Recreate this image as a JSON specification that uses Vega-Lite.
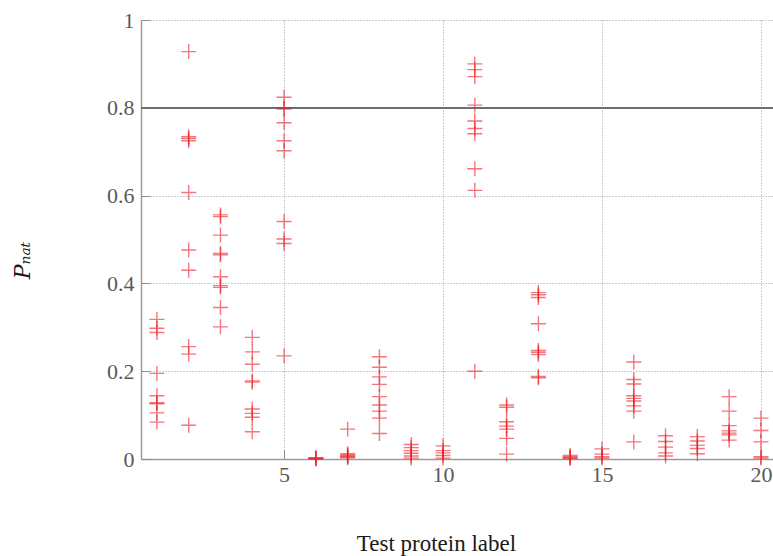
{
  "$schema": "https://vega.github.io/schema/vega-lite/v6.json",
  "width": 632,
  "height": 439,
  "autosize": {"type": "none"},
  "padding": {"left": 141, "top": 20, "right": 0, "bottom": 97},
  "background": "white",
  "config": {
    "view": {"stroke": null},
    "font": "Liberation Serif"
  },
  "data": {
    "values": [
      {"protein": 1, "p": 0.318}, {"protein": 1, "p": 0.298}, {"protein": 1, "p": 0.288}, {"protein": 1, "p": 0.195}, {"protein": 1, "p": 0.144}, {"protein": 1, "p": 0.128}, {"protein": 1, "p": 0.126}, {"protein": 1, "p": 0.105}, {"protein": 1, "p": 0.084},
      {"protein": 2, "p": 0.928}, {"protein": 2, "p": 0.734}, {"protein": 2, "p": 0.730}, {"protein": 2, "p": 0.725}, {"protein": 2, "p": 0.607}, {"protein": 2, "p": 0.476}, {"protein": 2, "p": 0.430}, {"protein": 2, "p": 0.256}, {"protein": 2, "p": 0.239}, {"protein": 2, "p": 0.077},
      {"protein": 3, "p": 0.556}, {"protein": 3, "p": 0.552}, {"protein": 3, "p": 0.510}, {"protein": 3, "p": 0.468}, {"protein": 3, "p": 0.465}, {"protein": 3, "p": 0.415}, {"protein": 3, "p": 0.395}, {"protein": 3, "p": 0.391}, {"protein": 3, "p": 0.345}, {"protein": 3, "p": 0.301},
      {"protein": 4, "p": 0.277}, {"protein": 4, "p": 0.244}, {"protein": 4, "p": 0.216}, {"protein": 4, "p": 0.178}, {"protein": 4, "p": 0.175}, {"protein": 4, "p": 0.114}, {"protein": 4, "p": 0.104}, {"protein": 4, "p": 0.095}, {"protein": 4, "p": 0.062},
      {"protein": 5, "p": 0.824}, {"protein": 5, "p": 0.800}, {"protein": 5, "p": 0.797}, {"protein": 5, "p": 0.766}, {"protein": 5, "p": 0.725}, {"protein": 5, "p": 0.702}, {"protein": 5, "p": 0.541}, {"protein": 5, "p": 0.501}, {"protein": 5, "p": 0.491}, {"protein": 5, "p": 0.235},
      {"protein": 6, "p": 0.003}, {"protein": 6, "p": 0.002}, {"protein": 6, "p": 0.001}, {"protein": 6, "p": 0.0},
      {"protein": 7, "p": 0.068}, {"protein": 7, "p": 0.012}, {"protein": 7, "p": 0.009}, {"protein": 7, "p": 0.007}, {"protein": 7, "p": 0.005}, {"protein": 7, "p": 0.003},
      {"protein": 8, "p": 0.233}, {"protein": 8, "p": 0.209}, {"protein": 8, "p": 0.187}, {"protein": 8, "p": 0.170}, {"protein": 8, "p": 0.142}, {"protein": 8, "p": 0.123}, {"protein": 8, "p": 0.109}, {"protein": 8, "p": 0.093}, {"protein": 8, "p": 0.058},
      {"protein": 9, "p": 0.033}, {"protein": 9, "p": 0.026}, {"protein": 9, "p": 0.019}, {"protein": 9, "p": 0.013}, {"protein": 9, "p": 0.007}, {"protein": 9, "p": 0.002},
      {"protein": 10, "p": 0.030}, {"protein": 10, "p": 0.019}, {"protein": 10, "p": 0.014}, {"protein": 10, "p": 0.008}, {"protein": 10, "p": 0.002},
      {"protein": 11, "p": 0.900}, {"protein": 11, "p": 0.887}, {"protein": 11, "p": 0.871}, {"protein": 11, "p": 0.806}, {"protein": 11, "p": 0.770}, {"protein": 11, "p": 0.753}, {"protein": 11, "p": 0.741}, {"protein": 11, "p": 0.661}, {"protein": 11, "p": 0.612}, {"protein": 11, "p": 0.200},
      {"protein": 12, "p": 0.123}, {"protein": 12, "p": 0.118}, {"protein": 12, "p": 0.085}, {"protein": 12, "p": 0.075}, {"protein": 12, "p": 0.068}, {"protein": 12, "p": 0.047}, {"protein": 12, "p": 0.011},
      {"protein": 13, "p": 0.379}, {"protein": 13, "p": 0.374}, {"protein": 13, "p": 0.368}, {"protein": 13, "p": 0.308}, {"protein": 13, "p": 0.247}, {"protein": 13, "p": 0.243}, {"protein": 13, "p": 0.238}, {"protein": 13, "p": 0.188}, {"protein": 13, "p": 0.185},
      {"protein": 14, "p": 0.008}, {"protein": 14, "p": 0.005}, {"protein": 14, "p": 0.003}, {"protein": 14, "p": 0.001},
      {"protein": 15, "p": 0.023}, {"protein": 15, "p": 0.011}, {"protein": 15, "p": 0.005}, {"protein": 15, "p": 0.002},
      {"protein": 16, "p": 0.221}, {"protein": 16, "p": 0.181}, {"protein": 16, "p": 0.171}, {"protein": 16, "p": 0.144}, {"protein": 16, "p": 0.138}, {"protein": 16, "p": 0.132}, {"protein": 16, "p": 0.121}, {"protein": 16, "p": 0.109}, {"protein": 16, "p": 0.039},
      {"protein": 17, "p": 0.053}, {"protein": 17, "p": 0.040}, {"protein": 17, "p": 0.027}, {"protein": 17, "p": 0.014}, {"protein": 17, "p": 0.007},
      {"protein": 18, "p": 0.051}, {"protein": 18, "p": 0.041}, {"protein": 18, "p": 0.031}, {"protein": 18, "p": 0.024}, {"protein": 18, "p": 0.012},
      {"protein": 19, "p": 0.142}, {"protein": 19, "p": 0.109}, {"protein": 19, "p": 0.076}, {"protein": 19, "p": 0.064}, {"protein": 19, "p": 0.059}, {"protein": 19, "p": 0.055}, {"protein": 19, "p": 0.043},
      {"protein": 20, "p": 0.093}, {"protein": 20, "p": 0.065}, {"protein": 20, "p": 0.039}, {"protein": 20, "p": 0.005}, {"protein": 20, "p": 0.002}
    ]
  },
  "layer": [
    {
      "mark": {"type": "rule", "color": "#6e6e6e", "strokeWidth": 1.6},
      "encoding": {"y": {"datum": 0.8, "type": "quantitative"}}
    },
    {
      "mark": {
        "type": "point",
        "shape": "M-1,0H1M0,-1V1",
        "filled": false,
        "size": 225,
        "stroke": "#ec1c24",
        "strokeWidth": 1.4,
        "strokeOpacity": 0.85
      },
      "encoding": {
        "x": {
          "field": "protein",
          "type": "quantitative",
          "scale": {"domain": [0.5, 20.38], "nice": false, "zero": false},
          "axis": {
            "values": [5, 10, 15, 20],
            "title": "Test protein label",
            "titleFont": "Liberation Serif",
            "titleFontSize": 23,
            "titleFontWeight": "normal",
            "titleColor": "#1a1a1a",
            "titleX": 295,
            "titleY": 91,
            "titleAlign": "center",
            "titleBaseline": "alphabetic",
            "labelFont": "Liberation Serif",
            "labelFontSize": 22,
            "labelColor": "#5a5a5a",
            "labelPadding": 14,
            "tickSize": -9,
            "tickColor": "#8c8c8c",
            "domainColor": "#9a9a9a",
            "domainWidth": 1.5,
            "grid": true,
            "gridColor": "#9a9a9a",
            "gridDash": [1, 2],
            "gridWidth": 1
          }
        },
        "y": {
          "field": "p",
          "type": "quantitative",
          "scale": {"domain": [0, 1], "nice": false},
          "axis": {
            "values": [0, 0.2, 0.4, 0.6, 0.8, 1],
            "format": "~g",
            "title": "Pₙₐₜ",
            "titleFont": "DejaVu Serif",
            "titleFontSize": 22,
            "titleFontWeight": "normal",
            "titleFontStyle": "italic",
            "titleColor": "#1a1a1a",
            "titleAngle": 270,
            "titleX": -119,
            "titleY": 240,
            "titleAlign": "center",
            "titleBaseline": "middle",
            "labelFont": "Liberation Serif",
            "labelFontSize": 22,
            "labelColor": "#5a5a5a",
            "labelPadding": 16,
            "tickSize": -9,
            "tickColor": "#8c8c8c",
            "domainColor": "#9a9a9a",
            "domainWidth": 1.5,
            "grid": true,
            "gridColor": "#9a9a9a",
            "gridDash": [1, 2],
            "gridWidth": 1
          }
        }
      }
    }
  ]
}
